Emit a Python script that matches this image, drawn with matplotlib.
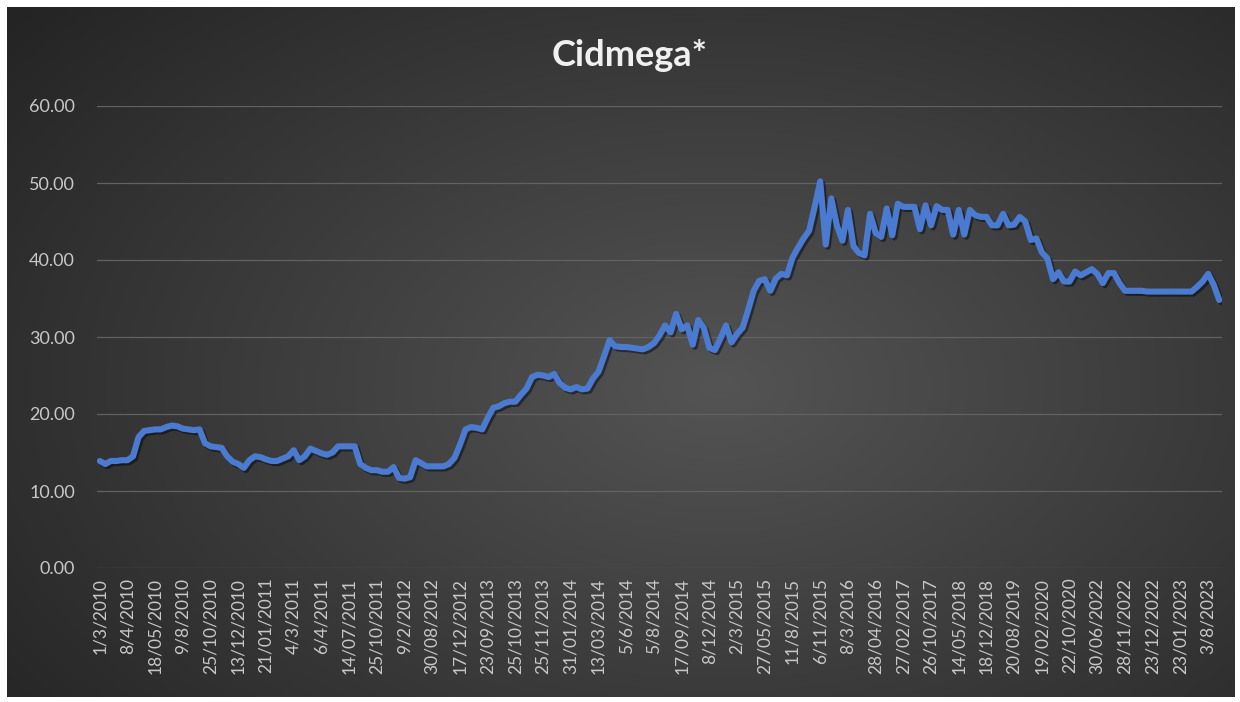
import matplotlib
matplotlib.use("Agg")
import matplotlib.pyplot as plt
import matplotlib.patheffects as pe
import numpy as np

plt.rcParams['font.family'] = ['Lato', 'DejaVu Sans']

title = "Cidmega*"

date_labels = [
    '1/3/2010', '8/4/2010', '18/05/2010', '9/8/2010', '25/10/2010', '13/12/2010',
    '21/01/2011', '4/3/2011', '6/4/2011', '14/07/2011', '25/10/2011', '9/2/2012',
    '30/08/2012', '17/12/2012', '23/09/2013', '25/10/2013', '25/11/2013', '31/01/2014',
    '13/03/2014', '5/6/2014', '5/8/2014', '17/09/2014', '8/12/2014', '2/3/2015',
    '27/05/2015', '11/8/2015', '6/11/2015', '8/3/2016', '28/04/2016', '27/02/2017',
    '26/10/2017', '14/05/2018', '18/12/2018', '20/08/2019', '19/02/2020', '22/10/2020',
    '30/06/2022', '28/11/2022', '23/12/2022', '23/01/2023', '3/8/2023',
]
label_step = 5  # one date label every 5 observations

prices = [
    13.9, 13.5, 13.9, 13.9, 14.0, 14.0, 14.5, 17.0, 17.8, 17.9,
    18.0, 18.0, 18.3, 18.5, 18.4, 18.1, 18.0, 17.9, 18.0, 16.2,
    15.8, 15.7, 15.6, 14.5, 13.8, 13.5, 13.0, 14.0, 14.5, 14.4,
    14.1, 13.9, 13.9, 14.2, 14.5, 15.3, 14.0, 14.5, 15.5, 15.2,
    14.9, 14.7, 15.0, 15.8, 15.8, 15.8, 15.8, 13.5, 13.0, 12.7,
    12.7, 12.5, 12.5, 13.1, 11.7, 11.6, 11.8, 14.0, 13.6, 13.2,
    13.2, 13.2, 13.2, 13.5, 14.3, 16.0, 18.0, 18.3, 18.2, 18.0,
    19.5, 20.8, 21.0, 21.4, 21.6, 21.6, 22.5, 23.3, 24.8, 25.1,
    25.0, 24.8, 25.2, 24.0, 23.4, 23.2, 23.5, 23.2, 23.3, 24.6,
    25.5, 27.5, 29.6, 28.8, 28.7, 28.7, 28.6, 28.5, 28.4, 28.7,
    29.2, 30.2, 31.5, 30.6, 33.0, 31.0, 31.5, 29.0, 32.2, 31.2,
    28.6, 28.3, 29.8, 31.5, 29.3, 30.4, 31.2, 33.5, 36.0, 37.3,
    37.5, 36.0, 37.6, 38.2, 38.0, 40.3, 41.6, 42.8, 43.8, 46.9,
    50.2, 42.0, 48.0, 44.5, 42.5, 46.5, 41.8, 40.9, 40.6, 46.0,
    43.5, 43.0, 46.7, 43.2, 47.3, 46.9, 46.9, 46.9, 44.0, 47.1,
    44.5, 47.0, 46.5, 46.5, 43.3, 46.5, 43.3, 46.5, 45.8, 45.6,
    45.6, 44.5, 44.5, 46.0, 44.5, 44.6, 45.6, 45.0, 42.6, 42.8,
    41.0, 40.2, 37.5, 38.4, 37.2, 37.2, 38.5, 38.0, 38.4, 38.8,
    38.2, 37.0, 38.3, 38.3, 37.0, 36.0, 36.0, 36.0, 36.0, 35.9,
    35.9, 35.9, 35.9, 35.9, 35.9, 35.9, 35.9, 35.9, 36.5, 37.2,
    38.2, 36.8, 34.8,
]
y_ticks = [0, 10, 20, 30, 40, 50, 60]

W, H = 1240, 702
fig = plt.figure(figsize=(W / 100, H / 100), dpi=100)
fig.patch.set_facecolor('white')

# dark radial gradient panel (Excel dark chart style)
bg = fig.add_axes([7 / W, 5 / H, 1228 / W, 690 / H])
gx, gy = np.meshgrid(np.linspace(0, 1, 400), np.linspace(0, 1, 240))
r = np.sqrt(((gx - 0.58) / 0.75) ** 2 + ((gy - 0.45) / 0.85) ** 2)
r = np.clip(r, 0, 1)
shade = (84 - (84 - 36) * r) / 255.0
bg.imshow(np.dstack([shade, shade, shade]), extent=[0, 1, 0, 1], aspect='auto',
          origin='lower', interpolation='bilinear')
bg.axis('off')

ax = fig.add_axes([97 / W, 1 - 568 / H, (1222 - 97) / W, (568 - 106) / H])
ax.set_facecolor('none')
ax.set_zorder(2)

x = np.arange(len(prices))
ax.plot(x, prices, color='#4a7bd0', lw=4.4, solid_joinstyle='round', solid_capstyle='round',
        path_effects=[pe.SimpleLineShadow(offset=(1.5, -1.5), shadow_color='black', alpha=0.45),
                      pe.Normal()], zorder=3)

ax.set_xlim(-0.5, len(prices) - 0.5)
ax.set_ylim(0, 60)
ax.set_yticks(y_ticks)
ax.set_yticklabels([f"{v:.2f}" for v in y_ticks])
ax.set_xticks(np.arange(0, len(date_labels) * label_step, label_step))
ax.set_xticklabels(date_labels, rotation=90)
ax.grid(axis='y', color='#626262', lw=0.9)
ax.set_axisbelow(True)
for s in ax.spines.values():
    s.set_visible(False)
ax.tick_params(axis='y', length=0, pad=16, labelsize=13, labelcolor='#c8c8c8')
ax.tick_params(axis='x', length=0, pad=7, labelsize=12.5, labelcolor='#c8c8c8')

fig.text(0.508, 1 - 55 / H, title, ha='center', va='center', fontsize=26,
         fontweight='bold', color='#f0f0f0')

fig.savefig('out.png', dpi=100, facecolor=fig.get_facecolor())
